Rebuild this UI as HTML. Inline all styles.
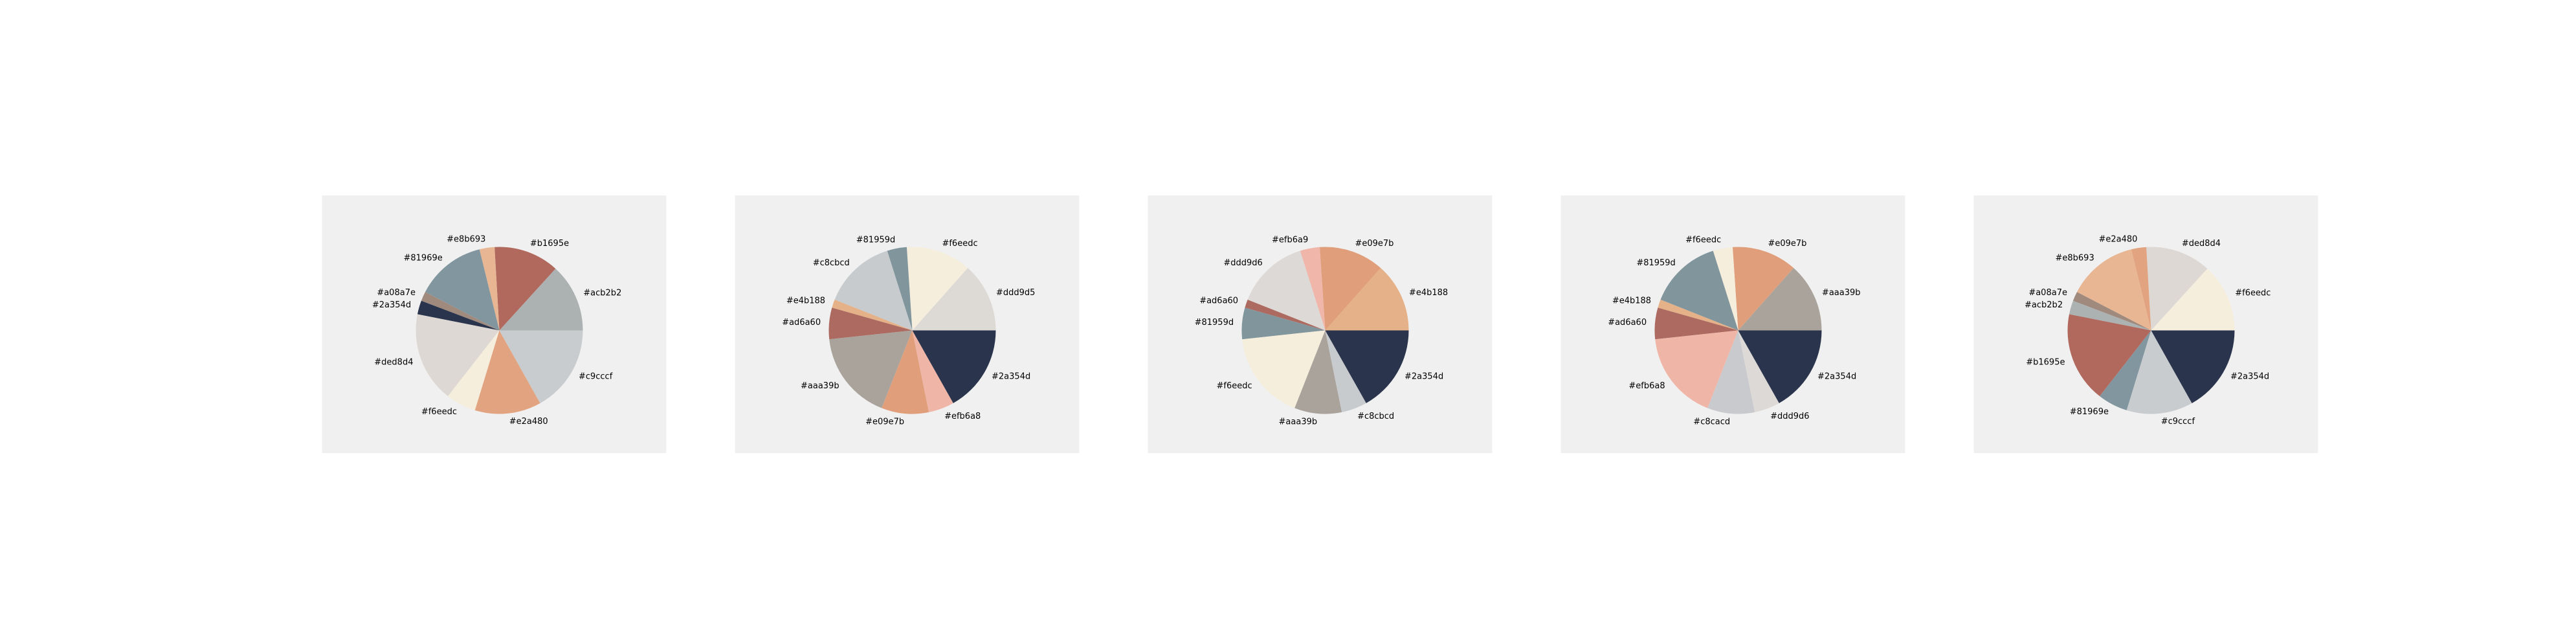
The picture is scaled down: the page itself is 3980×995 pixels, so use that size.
<!DOCTYPE html>
<html><head><meta charset="utf-8"><style>
html,body{margin:0;padding:0;background:#fff;}
svg{display:block;}
text{font-family:"DejaVu Sans","Liberation Sans",sans-serif;font-size:13px;fill:#000;}
</style></head><body>
<svg id="chart" width="3980" height="995" viewBox="0 0 3980 995" xmlns="http://www.w3.org/2000/svg"></svg>
<script>
const labels1 = ["#acb2b2","#b1695e","#e8b693","#81969e","#a08a7e","#2a354d","#ded8d4","#f6eedc","#e2a480","#c9cccf"];
const values1 = [47.7,45.6,10.5,48.8,6.6,9.6,63.2,21,46.3,60.7];
const labels2 = ["#ddd9d5","#f6eedc","#81959d","#c8cbcd","#e4b188","#ad6a60","#aaa39b","#e09e7b","#efb6a8","#2a354d"];
const values2 = [48.4,45.4,13.7,50.9,5.8,21.9,62.4,33,17.9,60.6];
const labels3 = ["#e4b188","#e09e7b","#efb6a9","#ddd9d6","#ad6a60","#81959d","#f6eedc","#aaa39b","#c8cbcd","#2a354d"];
const values3 = [48.4,45.4,13.7,50.9,5.8,21.9,62.4,33,17.9,60.6];
const labels4 = ["#aaa39b","#e09e7b","#f6eedc","#81959d","#e4b188","#ad6a60","#efb6a8","#c8cacd","#ddd9d6","#2a354d"];
const values4 = [48.4,45.4,13.7,50.9,5.8,21.9,62.4,33,17.9,60.6];
const labels5 = ["#f6eedc","#ded8d4","#e2a480","#e8b693","#a08a7e","#acb2b2","#b1695e","#81969e","#c9cccf","#2a354d"];
const values5 = [47.7,45.6,10.5,48.8,6.6,9.6,63.2,21,46.3,60.7];

const NS = "http://www.w3.org/2000/svg";
const svg = document.getElementById("chart");
const panels = [[labels1,values1],[labels2,values2],[labels3,values3],[labels4,values4],[labels5,values5]];
const PW = 532, PH = 398, PY = 302, R = 129;

panels.forEach(function(p, i){
  const labels = p[0], values = p[1];
  const x0 = 497.5 + 638 * i;
  const g = document.createElementNS(NS, "g");
  
  
  svg.appendChild(g);
  const bg = document.createElementNS(NS, "rect");
  bg.setAttribute("x", x0); bg.setAttribute("y", PY);
  bg.setAttribute("width", PW); bg.setAttribute("height", PH);
  bg.setAttribute("fill", "#f0f0f0");
  
  
  g.appendChild(bg);
  const cx = x0 + 274, cy = PY + 208.5;
  const total = values.reduce(function(a,b){return a+b;}, 0);
  let start = 0;
  values.forEach(function(v, k){
    const a0 = start / total * 2 * Math.PI;
    const a1 = (start + v) / total * 2 * Math.PI;
    start += v;
    const xa = cx + R*Math.cos(a0), ya = cy - R*Math.sin(a0);
    const xb = cx + R*Math.cos(a1), yb = cy - R*Math.sin(a1);
    const large = (a1 - a0) > Math.PI ? 1 : 0;
    const path = document.createElementNS(NS, "path");
    path.setAttribute("d", "M"+cx+","+cy+" L"+xa+","+ya+" A"+R+","+R+" 0 "+large+" 0 "+xb+","+yb+" Z");
    path.setAttribute("fill", labels[k]);
    
    
    g.appendChild(path);
    const am = (a0 + a1) / 2;
    const lx = cx + 1.1*R*Math.cos(am), ly = cy - 1.1*R*Math.sin(am);
    const t = document.createElementNS(NS, "text");
    t.setAttribute("x", lx); t.setAttribute("y", ly);
    t.setAttribute("text-anchor", Math.cos(am) >= 0 ? "start" : "end");
    t.setAttribute("dominant-baseline", "central");
    t.textContent = labels[k];
    
    
    g.appendChild(t);
  });
});
</script>
</body></html>
